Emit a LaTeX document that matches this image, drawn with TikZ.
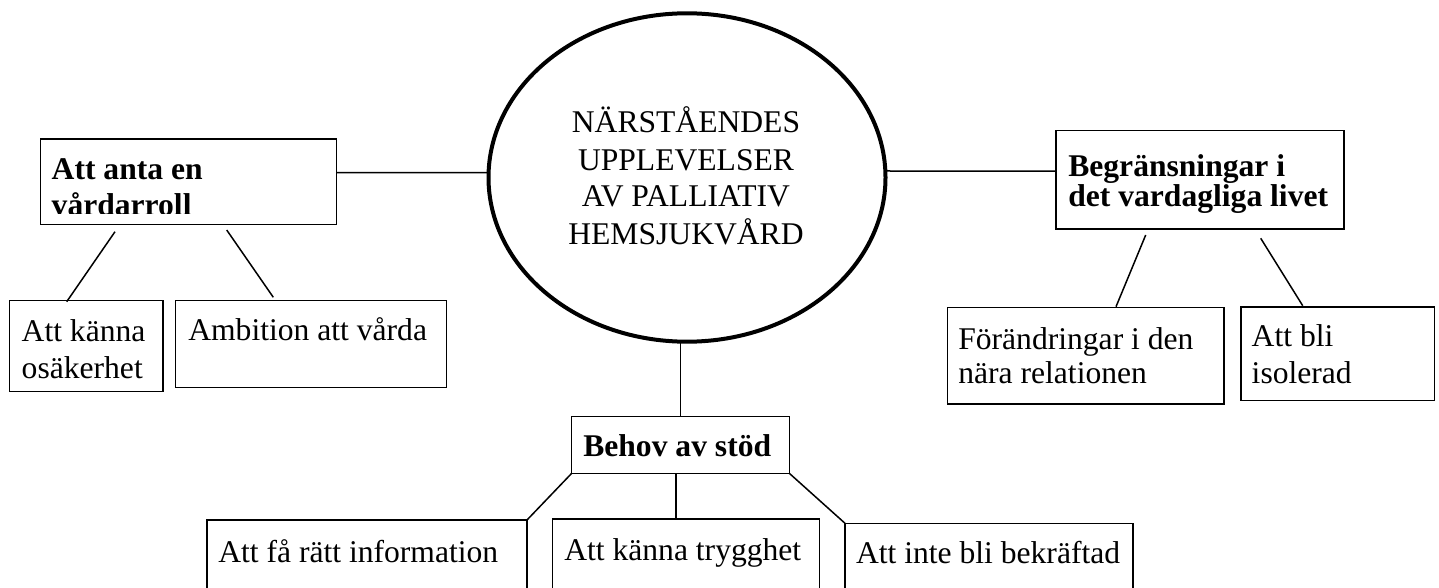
\documentclass[tikz,border=0pt]{standalone}
\usepackage{fontspec}
\setmainfont{Liberation Serif}
\usetikzlibrary{shapes.geometric}
\begin{document}
\begin{tikzpicture}[x=0.5pt,y=-0.5pt,
  box/.style={draw, line width=0.75pt, inner sep=0pt, outer sep=0pt},
  conn/.style={line width=0.75pt},
  txt/.style={anchor=base west, inner sep=0pt, outer sep=0pt, font=\fontsize{15.8pt}{18.5pt}\selectfont},
  btxt/.style={txt, font=\fontsize{15.8pt}{18.5pt}\selectfont\bfseries},
  ctxt/.style={anchor=base, inner sep=0pt, outer sep=0pt, font=\fontsize{15.8pt}{18.5pt}\selectfont}]
\useasboundingbox (0,0) rectangle (1439,588);
\clip (0,0) rectangle (1439,588);
\fill[white] (0,0) rectangle (1439,588);

% central ellipse
\node[draw, ellipse, line width=2pt, inner sep=0pt, outer sep=0pt,
      minimum width=198.5pt, minimum height=164.2pt] (E) at (687,177.5) {};
\node[ctxt] (e1) at (686,133) {NÄRSTÅENDES};
\node[ctxt] (e2) at (686,171) {UPPLEVELSER};
\node[ctxt] (e3) at (686,207) {AV PALLIATIV};
\node[ctxt] (e4) at (686,245) {HEMSJUKVÅRD};

% left branch
\node[box, minimum width=148pt, minimum height=42.65pt] (A) at (188.7,181.65) {};
\node[btxt] (At1) at (51.7,179.3) {Att anta en};
\begin{scope}
  \clip (40,139) rectangle (337,214);
  \node[btxt] (At2) at (51.7,216) {vårdarroll};
\end{scope}
\node[box, minimum width=76.85pt, minimum height=45.5pt] (A1) at (86.15,346.2) {};
\node[txt] (A1t1) at (21.7,341.7) {Att känna};
\node[txt] (A1t2) at (21.7,378) {osäkerhet};
\node[box, minimum width=135.5pt, minimum height=43.3pt] (A2) at (311.2,344) {};
\node[txt] (A2t) at (188.3,340) {Ambition att vårda};

% right branch
\node[box, minimum width=144pt, minimum height=49.15pt] (B) at (1200,179.85) {};
\node[btxt] (Bt1) at (1068.3,176.7) {Begränsningar i};
\node[btxt] (Bt2) at (1068.3,206.7) {det vardagliga livet};
\node[box, minimum width=138.35pt, minimum height=48.15pt] (B1) at (1085.65,355.85) {};
\node[txt] (B1t1) at (958.3,349) {Förändringar i den};
\node[txt] (B1t2) at (958.3,383.3) {nära relationen};
\node[box, minimum width=96.65pt, minimum height=46.85pt] (B2) at (1337.65,353.85) {};
\node[txt] (B2t1) at (1251.7,346.7) {Att bli};
\node[txt] (B2t2) at (1251.7,383.3) {isolerad};

% bottom branch
\node[box, minimum width=108.8pt, minimum height=28.3pt] (C) at (680.5,445) {};
\node[btxt] (Ct) at (583.3,456.7) {Behov av stöd};
\node[box, minimum width=160pt, minimum height=45pt] (C1) at (367,565) {};
\node[txt] (C1t) at (218.3,562.7) {Att få rätt information};
\node[box, minimum width=133.3pt, minimum height=45.5pt] (C2) at (686,564.5) {};
\node[txt] (C2t) at (564.3,560) {Att känna trygghet};
\node[box, minimum width=144pt, minimum height=43.35pt] (C3) at (989,566.65) {};
\node[txt] (C3t) at (856,563.3) {Att inte bli bekräftad};

% connectors
\draw[conn] ([yshift=4.5pt]A.east) -- ([yshift=2.4pt]E.west);
\draw[conn] ([yshift=3.25pt]E.east) -- ([yshift=4.4pt]B.west);
\draw[conn] (E.south -| C.north) -- (C.north);

\coordinate (a1s) at (115,231.7);   \coordinate (a1e) at (66.7,301.7);
\coordinate (a2s) at (226.7,230);   \coordinate (a2e) at (273.3,297.3);
\draw[conn] (a1s) -- (a1e);
\draw[conn] (a2s) -- (a2e);

\coordinate (b1s) at (1145.7,235);  \coordinate (b1e) at (1116,306.7);
\coordinate (b2s) at (1260.7,238.3);\coordinate (b2e) at (1302.7,305.7);
\draw[conn] (b1s) -- (b1e);
\draw[conn] (b2s) -- (b2e);

\draw[conn] (C.south west) -- (C1.north east);
\draw[conn] ([xshift=-2.25pt]C.south) -- ([xshift=-2.25pt]C.south |- C2.north);
\draw[conn] (C.south east) -- (C3.north west);
\end{tikzpicture}
\end{document}
